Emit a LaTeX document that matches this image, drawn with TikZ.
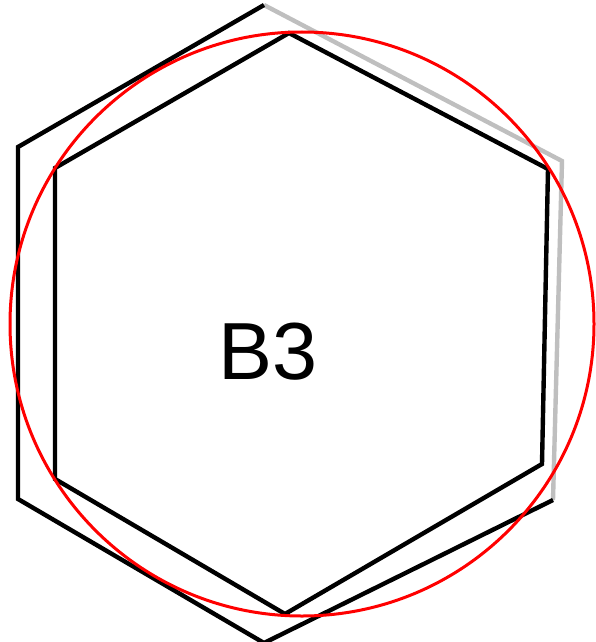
\documentclass[tikz,border=0pt]{standalone}
\usepackage{fontspec}
\setmainfont{Liberation Sans}
\usepackage{tikz}
\usetikzlibrary{calc}

\begin{document}
\begin{tikzpicture}[x=1pt,y=-1pt,line join=miter]
  \useasboundingbox (0,0) rectangle (595,642);
  % outer hexagon
  \draw[line width=4.4pt,gray!50] (264,5)--(562,161)--(553,500);
  \draw[line width=4.4pt] (264,5)--(18,147)--(18,499)--(264,643)--(553,500);
  % inner hexagon
  \draw[line width=4.4pt] (289,33)--(548,169)--(542,464)--(285,614)--(55,479)--(55,168)--cycle;
  % circumcircle
  \draw[line width=3pt,red] (302,324) circle (292);
  \node[font=\fontsize{81}{81}\selectfont] (lbl) at (268,352) {B3};
\end{tikzpicture}
\end{document}
